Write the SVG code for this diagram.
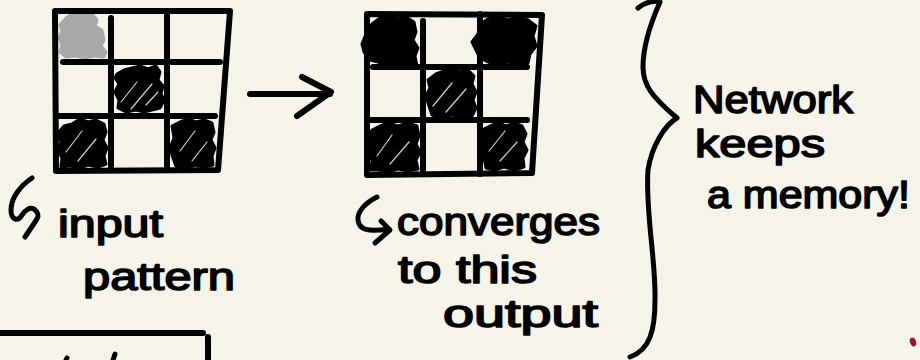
<svg xmlns="http://www.w3.org/2000/svg" width="920" height="360" viewBox="0 0 920 360">
<defs>
<style>
.ln{fill:none;stroke:#000;stroke-width:6;stroke-linecap:round;stroke-linejoin:round}
.thin{fill:none;stroke:#000;stroke-width:5;stroke-linecap:round;stroke-linejoin:round}
.blk{fill:#000;stroke:#000;stroke-width:3;stroke-linejoin:round}
.gry{fill:#a9a9a9;stroke:#a9a9a9;stroke-width:3;stroke-linejoin:round}
.gap{fill:none;stroke:#f6f4e9;stroke-width:1.2;stroke-linecap:round;opacity:0.85}
.hw{font-family:"Liberation Sans","Arimo",sans-serif;font-size:38px;fill:#000;stroke:#000;stroke-width:1.6;stroke-linejoin:round}
</style>
</defs>
<rect width="920" height="360" fill="#f6f4e9"/>

<g id="input-grid">
<path class="gry" d="M60,25 L66,18 L72,14 L80,13 L86,11 L92,14 L97,20 L95,26 L102,30 L104,40 L101,46 L106,52 L104,57 L94,56 L86,58 L75,56 L66,57 L60,52 L62,45 L59,38 L62,31 Z"/>
<path class="blk" d="M117,74 L124,70 L132,68 L140,66 L148,69 L156,66 L160,72 L158,80 L163,86 L161,94 L164,100 L160,108 L152,110 L144,112 L136,110 L126,112 L118,108 L119,100 L115,92 L119,84 L115,78 Z"/>
<path class="blk" d="M58,133 L64,126 L72,124 L80,119 L88,122 L96,120 L104,124 L106,132 L103,140 L107,148 L104,156 L106,164 L98,167 L88,165 L80,168 L70,166 L61,167 L62,158 L58,150 L61,142 Z"/>
<path class="blk" d="M172,126 L180,122 L188,119 L196,122 L204,120 L212,123 L214,132 L211,140 L215,148 L212,156 L213,165 L204,167 L195,165 L186,168 L176,166 L173,158 L170,148 L174,138 Z"/>
<path class="gap" d="M121,102 L137,82 M131,109 L152,84 M146,105 L158,92 M66,152 L82,131 M78,161 L96,139 M180,151 L195,131 M192,161 L207,142"/>
<path class="ln" d="M55,11 L230,11 L218,170 L56,171 Z"/>
<path class="ln" d="M111,18 L111,170 M167,11 L167,170 M63,62 L220,62 M59,116 L215,116"/>
</g>

<g id="output-grid">
<path class="blk" d="M362,44 L366,34 L372,24 L380,18 L390,16 L398,19 L406,17 L414,22 L416,32 L413,40 L418,48 L415,56 L417,66 L408,68 L398,65 L388,67 L378,62 L370,60 L364,52 Z"/>
<path class="blk" d="M472,42 L478,34 L480,24 L488,19 L498,17 L508,20 L518,17 L528,20 L536,26 L533,36 L536,46 L530,54 L528,63 L518,65 L508,62 L498,65 L488,62 L480,58 L476,50 Z"/>
<path class="blk" d="M428,80 L436,74 L444,71 L452,69 L460,72 L468,70 L474,76 L472,84 L476,92 L473,100 L476,108 L472,116 L462,117 L452,115 L442,118 L432,115 L429,106 L426,96 L430,88 Z"/>
<path class="blk" d="M367,138 L372,130 L380,126 L388,123 L398,126 L408,123 L417,126 L419,136 L416,144 L420,152 L416,160 L418,169 L408,171 L398,169 L388,172 L378,170 L371,170 L372,160 L367,150 Z"/>
<path class="blk" d="M482,130 L490,126 L498,123 L506,126 L514,123 L522,126 L526,134 L523,142 L527,150 L523,158 L524,167 L514,170 L504,167 L494,170 L486,168 L484,158 L481,148 L484,140 Z"/>
<path class="gap" d="M433,106 L452,83 M446,112 L466,89 M377,156 L392,135 M390,164 L409,142 M489,151 L505,131 M500,161 L517,142"/>
<path class="ln" d="M367,14 L542,15 L532,173 L367,175 Z"/>
<path class="ln" d="M423,21 L423,174 M480,14 L480,174 M373,67 L527,67 M370,120 L527,120"/>
</g>

<g id="connectors">
<path class="ln" d="M250,94 L330,94 M302,77 L331,92 L297,116"/>
<path class="thin" d="M638,8 C645,2 655,0 660,2 C652,20 643,45 643,67 C643,85 652,97 677,118 C665,125 652,145 648,170 C645,210 656,260 655,300 C655,330 650,350 630,357"/>
<path class="thin" d="M32,178 C20,186 11,198 11,210 C11,220 18,222 22,215 C25,210 30,207 34,209 C38,212 39,216 37,219 L25,237"/>
<path class="thin" d="M377,197 C365,203 357,212 358,220 C359,230 368,232 388,229 M381,221 L390,230 L375,243"/>
</g>

<g id="labels">
<text class="hw" x="58" y="237" textLength="105" lengthAdjust="spacingAndGlyphs">input</text>
<text class="hw" x="83" y="290" textLength="152" lengthAdjust="spacingAndGlyphs">pattern</text>
<text class="hw" x="397" y="235" textLength="203" lengthAdjust="spacingAndGlyphs">converges</text>
<text class="hw" x="398" y="283" textLength="139" lengthAdjust="spacingAndGlyphs">to this</text>
<text class="hw" x="443" y="327" textLength="155" lengthAdjust="spacingAndGlyphs">output</text>
<text class="hw" x="693" y="113" textLength="160" lengthAdjust="spacingAndGlyphs">Network</text>
<text class="hw" x="695" y="157" textLength="130" lengthAdjust="spacingAndGlyphs">keeps</text>
<text class="hw" x="707" y="208" textLength="203" lengthAdjust="spacingAndGlyphs">a memory!</text>
</g>

<g id="bottom-box">
<path class="ln" d="M0,333 L203,333 M208,337 L208,360"/>
<path class="thin" d="M67,358 L66,360 M115,354 L113,360"/>
</g>
<ellipse cx="913" cy="342" rx="3" ry="4.5" fill="#a3102c" transform="rotate(-20 913 342)"/>
</svg>
